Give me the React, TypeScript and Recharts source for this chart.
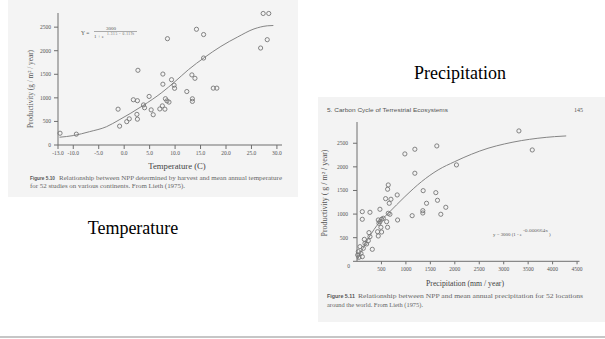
import React from 'react';
import { ComposedChart, Scatter, Line, XAxis, YAxis } from 'recharts';

// ---- Figure 5.10 : productivity vs temperature ----
const tempPoints: [number, number][] = [
  [-12.6, 250], [-9.4, 230], [-1.2, 760], [-0.9, 400], [0.5, 495], [1.0, 555],
  [1.8, 960], [2.6, 940], [2.7, 1585], [2.5, 650], [2.6, 548], [3.8, 850],
  [4.0, 790], [4.9, 1030], [5.3, 745], [5.7, 642], [7.0, 765], [7.5, 830],
  [8.0, 760], [7.6, 1505], [7.6, 1290], [8.5, 2255], [8.1, 982], [8.4, 936],
  [8.8, 910], [9.3, 1385], [9.8, 1270], [9.9, 1203], [12.3, 1134], [13.3, 1487],
  [13.9, 1415], [13.4, 980], [13.4, 925], [14.2, 2455], [15.6, 2343], [15.6, 1845],
  [17.5, 1206], [18.2, 1206], [26.8, 2057], [28.1, 2234], [27.3, 2790], [28.4, 2790],
];
const tempCurve: [number, number][] = [
  [-12.7, 165], [-10, 200], [-6.8, 283], [-3.5, 387], [-1, 532], [3.6, 830],
  [7.4, 1113], [10, 1347], [12.6, 1596], [15.8, 1858], [19, 2092], [22.3, 2292],
  [25.5, 2462], [28.1, 2528], [29.3, 2535],
];
const tempXTicks = [-13, -10, -5, 0, 5, 10, 15, 20, 25, 30];
const tempYTicks = [0, 500, 1000, 1500, 2000, 2500];

// ---- Figure 5.11 : productivity vs precipitation ----
const precPoints: [number, number][] = [
  [108, 1051], [265, 1038], [108, 890], [469, 1102], [979, 2274], [1183, 2373],
  [1183, 1865], [1632, 2443], [2034, 2041], [3311, 2761], [3584, 2358], [639, 1617],
  [626, 1526], [585, 1327], [694, 1314], [659, 1229], [822, 1405], [830, 875],
  [1128, 966], [1353, 1496], [1346, 1072], [1346, 1023], [1422, 1229], [1612, 1454],
  [1646, 1292], [1714, 996], [1816, 1144], [639, 1017], [673, 996], [469, 839],
  [503, 889], [435, 875], [449, 805], [537, 911], [605, 839], [625, 720],
  [489, 720], [421, 627], [503, 620], [435, 536], [245, 607], [265, 522],
  [150, 465], [231, 437], [163, 381], [61, 310], [197, 367], [313, 254],
  [129, 275], [27, 204], [81, 169], [14, 134], [109, 98], [41, 85],
];
const precCurve: [number, number][] = [
  [10, 40], [230, 480], [469, 839], [639, 1017], [979, 1369], [1320, 1687],
  [1659, 1935], [1999, 2111], [2340, 2267], [2679, 2394], [3019, 2486],
  [3360, 2556], [3699, 2606], [4039, 2640], [4278, 2655],
];
const precXTicks = [500, 1000, 1500, 2000, 2500, 3000, 3500, 4000, 4500];
const precYTicks = [0, 500, 1000, 1500, 2000, 2500];

const toObj = (arr: [number, number][]) => arr.map(([x, y]) => ({ x, y }));

const INK = '#6e6e6e';
const SERIF = 'Liberation Serif, DejaVu Serif, serif';
const SANS = 'Liberation Sans, DejaVu Sans, sans-serif';

const Ring = (props: any) => {
  const { cx, cy } = props;
  if (cx == null || cy == null) return null;
  return <circle cx={cx} cy={cy} r={2.1} fill="none" stroke="#767676" strokeWidth={0.9} />;
};

const tickStyle = { fontSize: 5.5, fill: '#555', fontFamily: SERIF };

const PrecYTick = (props: any) => {
  const { x, y, payload } = props;
  const isZero = payload.value === 0;
  return (
    <text x={isZero ? x + 2 : x} y={isZero ? y + 5 : y} dy="0.35em" textAnchor="end"
      fontSize={5.5} fill="#555" fontFamily={SERIF}>
      {payload.value}
    </text>
  );
};

export default function App() {
  return (
    <div style={{ position: 'absolute', left: 0, top: 0, width: 605, height: 339, background: '#fff', overflow: 'hidden' }}>
      {/* scanned page backgrounds */}
      <div style={{ position: 'absolute', left: 8, top: 0, width: 290, height: 197, background: '#f4f4f4' }} />
      <div style={{ position: 'absolute', left: 318, top: 97, width: 287, height: 225, background: '#f3f3f3' }} />
      <div style={{ position: 'absolute', left: 0, top: 336, width: 605, height: 2, background: '#c6c6c6' }} />

      {/* left chart */}
      <div style={{ position: 'absolute', left: 0, top: 0 }}>
        <ComposedChart width={300} height={200} margin={{ top: 13, right: 18, bottom: 35, left: 28 }}>
          <XAxis type="number" dataKey="x" domain={[-13, 31]} ticks={tempXTicks} interval={0}
            tickFormatter={(v: number) => v.toFixed(1)} height={20} tickSize={4} tickMargin={2}
            axisLine={{ stroke: INK }} tickLine={{ stroke: INK }} tick={tickStyle} />
          <YAxis type="number" dataKey="y" domain={[0, 2800]} ticks={tempYTicks} interval={0}
            width={30} tickSize={4} tickMargin={3}
            axisLine={{ stroke: INK }} tickLine={{ stroke: INK }} tick={tickStyle} />
          <Line data={toObj(tempCurve)} dataKey="y" type="monotone" dot={false}
            stroke="#858585" strokeWidth={1} isAnimationActive={false} />
          <Scatter data={toObj(tempPoints)} dataKey="y" shape={Ring} isAnimationActive={false} />
        </ComposedChart>
      </div>

      {/* right chart */}
      <div style={{ position: 'absolute', left: 300, top: 100 }}>
        <ComposedChart width={300} height={200} margin={{ top: 22, right: 20.5, bottom: 18.7, left: 27 }}>
          <XAxis type="number" dataKey="x" domain={[0, 4550]} ticks={precXTicks} interval={0}
            height={20} tickSize={3} tickMargin={3}
            axisLine={{ stroke: INK }} tickLine={{ stroke: INK }} tick={tickStyle} />
          <YAxis type="number" dataKey="y" domain={[0, 2950]} ticks={precYTicks} interval={0}
            width={30} tickSize={4} tickMargin={5}
            axisLine={{ stroke: INK }} tickLine={{ stroke: INK }} tick={<PrecYTick />} />
          <Line data={toObj(precCurve)} dataKey="y" type="monotone" dot={false}
            stroke="#858585" strokeWidth={1} isAnimationActive={false} />
          <Scatter data={toObj(precPoints)} dataKey="y" shape={Ring} isAnimationActive={false} />
        </ComposedChart>
      </div>

      {/* annotations */}
      <svg width={605} height={339} style={{ position: 'absolute', left: 0, top: 0, pointerEvents: 'none' }}>
        {/* left figure texts */}
        <text x={81} y={34.5} fontSize={5.5} fill="#555" fontFamily={SERIF}>Y =</text>
        <text x={106} y={30} fontSize={5} fill="#555" fontFamily={SERIF}>3000</text>
        <line x1={94} x2={137} y1={31.5} y2={31.5} stroke="#777" strokeWidth={0.6} />
        <text x={94} y={37.5} fontSize={5} fill="#555" fontFamily={SERIF}>1 + e</text>
        <text x={107} y={35} fontSize={3.5} fill="#666" fontFamily={SERIF} textLength={27}>1.315 - 0.119t</text>
        <text x={33} y={89} transform="rotate(-90 33 89)" textAnchor="middle" fontSize={7.2} fill="#555"
          fontFamily={SERIF} textLength={78} lengthAdjust="spacingAndGlyphs">Productivity (g / m² / year)</text>
        <text x={177} y={169} textAnchor="middle" fontSize={8.7} fill="#444" fontFamily={SERIF}>Temperature (C)</text>
        <text x={30} y={180} fontSize={5.5} fill="#555" fontWeight="bold" fontFamily={SANS}
          textLength={25} lengthAdjust="spacingAndGlyphs">Figure 5.10</text>
        <text x={59} y={180} fontSize={5.8} fill="#666" fontFamily={SERIF}
          textLength={223} lengthAdjust="spacingAndGlyphs">Relationship between NPP determined by harvest and mean annual temperature</text>
        <text x={30} y={187.5} fontSize={5.8} fill="#666" fontFamily={SERIF}
          textLength={155} lengthAdjust="spacingAndGlyphs">for 52 studies on various continents. From Lieth (1975).</text>

        {/* right figure texts */}
        <text x={327} y={112} fontSize={5.5} fill="#555" fontFamily={SANS}
          textLength={121} lengthAdjust="spacingAndGlyphs">5. Carbon Cycle of Terrestrial Ecosystems</text>
        <text x={583} y={112} textAnchor="end" fontSize={6} fill="#555" fontFamily={SERIF}>145</text>
        <text x={327} y={193} transform="rotate(-90 327 193)" textAnchor="middle" fontSize={7.2} fill="#555"
          fontFamily={SERIF} textLength={87} lengthAdjust="spacingAndGlyphs">Productivity ( g / m² / year)</text>
        <text x={493} y={236} fontSize={5} fill="#555" fontFamily={SERIF}
          textLength={29} lengthAdjust="spacingAndGlyphs">y = 3000 (1 - e</text>
        <text x={523} y={232} fontSize={3.5} fill="#666" fontFamily={SERIF}
          textLength={25} lengthAdjust="spacingAndGlyphs">-0.000664x</text>
        <text x={549} y={236} fontSize={5} fill="#555" fontFamily={SERIF}>)</text>
        <text x={465} y={286} textAnchor="middle" fontSize={8.5} fill="#444" fontFamily={SERIF}
          textLength={78} lengthAdjust="spacingAndGlyphs">Precipitation (mm / year)</text>
        <text x={327} y={298} fontSize={5.5} fill="#555" fontWeight="bold" fontFamily={SANS}
          textLength={28} lengthAdjust="spacingAndGlyphs">Figure 5.11</text>
        <text x={358} y={298} fontSize={5.8} fill="#666" fontFamily={SERIF}
          textLength={225} lengthAdjust="spacingAndGlyphs">Relationship between NPP and mean annual precipitation for 52 locations</text>
        <text x={327} y={307} fontSize={5.8} fill="#666" fontFamily={SERIF}
          textLength={96} lengthAdjust="spacingAndGlyphs">around the world. From Lieth (1975).</text>

        {/* slide labels */}
        <text x={133} y={233.5} textAnchor="middle" fontSize={18} fill="#000" fontFamily={SERIF}>Temperature</text>
        <text x={460} y={79} textAnchor="middle" fontSize={18} fill="#000" fontFamily={SERIF}>Precipitation</text>
      </svg>
    </div>
  );
}
